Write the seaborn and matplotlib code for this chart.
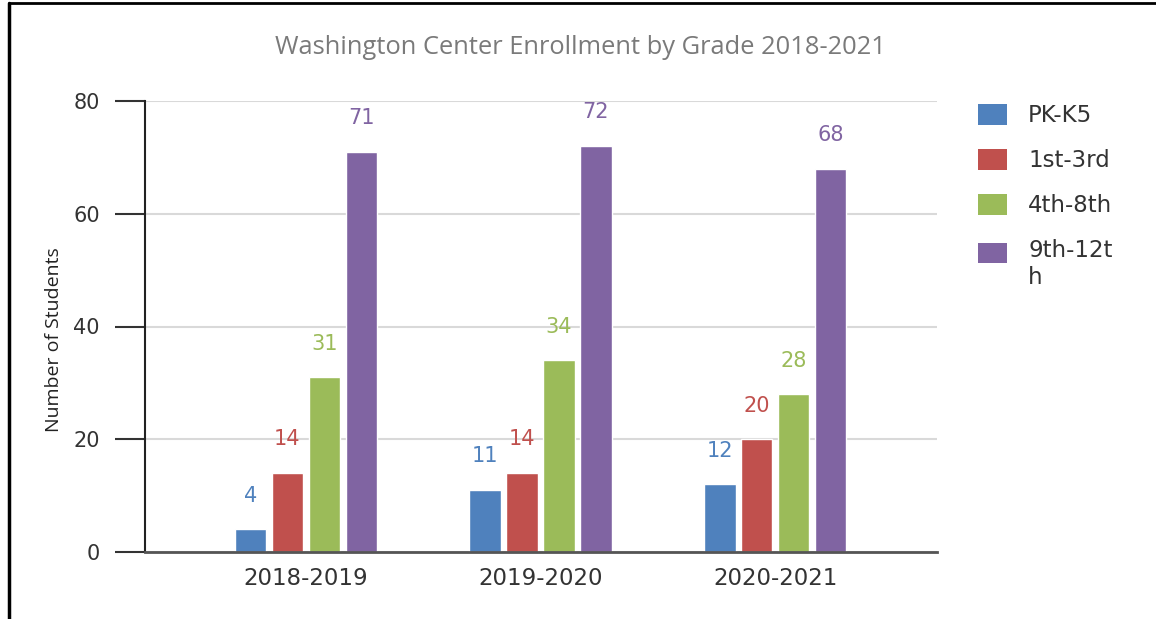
import textwrap

import matplotlib
matplotlib.use("Agg")
import matplotlib.pyplot as plt
from matplotlib.lines import Line2D
from matplotlib.patches import Patch
import pandas as pd
import seaborn as sns

# Enrollment counts per school year and grade band
seasons = ["2018-2019", "2019-2020", "2020-2021"]
grades = ["PK-K5", "1st-3rd", "4th-8th", "9th-12th"]
pk_k5 = [4, 11, 12]
first_third = [14, 14, 20]
fourth_eighth = [31, 34, 28]
ninth_twelfth = [71, 72, 68]
y_ticks = [0, 20, 40, 60, 80]

title = "Washington Center Enrollment by Grade 2018-2021"
y_label = "Number of Students"

colors = ["#4F81BD", "#C0504D", "#9BBB59", "#8064A2"]

df = pd.DataFrame({
    "season": seasons * 4,
    "grade": [g for g in grades for _ in seasons],
    "students": pk_k5 + first_third + fourth_eighth + ninth_twelfth,
})

sns.set_theme(style="white")
plt.rcParams["font.family"] = ["DejaVu Sans"]

W, H = 1156, 619
fig = plt.figure(figsize=(W / 100, H / 100), dpi=100)
ax = fig.add_axes([145 / W, 1 - 552 / H, (937 - 145) / W, (552 - 101) / H])

sns.barplot(
    data=df, x="season", y="students", hue="grade",
    hue_order=grades, order=seasons, palette=colors,
    width=0.63, gap=0.15, saturation=1, legend=False, ax=ax,
)

# value labels above each bar, coloured like the bar
for container, color in zip(ax.containers, colors):
    ax.bar_label(container, padding=17, color=color, fontsize=15)

ax.set_xlim(-0.685, 2.689)
ax.set_ylim(0, 80)
ax.set_yticks(y_ticks)
ax.set_xlabel("")
ax.set_ylabel(y_label, fontsize=14, color="#222222", family="Open Sans")
ax.yaxis.set_label_coords(-0.1035, 0.472)

ax.yaxis.grid(True, color="#d9d9d9", linewidth=1.5)
ax.set_axisbelow(True)
ax.tick_params(axis="y", length=21.6, width=1.5, color="#333333", pad=11,
               labelsize=15, labelcolor="#333333", left=True)
ax.tick_params(axis="x", length=0, pad=11, labelsize=16.5, labelcolor="#333333")

for side in ("top", "right"):
    ax.spines[side].set_visible(False)
ax.spines["left"].set_color("#222222")
ax.spines["left"].set_linewidth(1.5)
ax.spines["bottom"].set_color("#555555")
ax.spines["bottom"].set_linewidth(2)

fig.text(580 / W, 1 - 47 / H, title, ha="center", va="center",
         fontsize=18.4, color="#7a7a7a", family="Open Sans")

handles = [Patch(facecolor=c, edgecolor="none") for c in colors]
labels = [textwrap.fill(g, 7, break_on_hyphens=False) for g in grades]
leg = fig.legend(
    handles, labels, loc="upper left", bbox_to_anchor=(978 / W, 1 - 104 / H),
    frameon=False, fontsize=16.5, handlelength=1.27, handleheight=1.0,
    handletextpad=0.92, labelspacing=0.96, borderpad=0, borderaxespad=0,
    labelcolor="#333333",
)
# keep the swatch of a wrapped label level with its first line
for handle, label in zip(leg.legend_handles, labels):
    extra_lines = label.count("\n")
    if extra_lines:
        handle.set_y(handle.get_y() + 8.8 * extra_lines)

# page border on the top and left edges
fig.add_artist(Line2D([9 / W, 9 / W], [0, 1 - 3 / H], color="black", linewidth=2.5))
fig.add_artist(Line2D([9 / W, 1], [1 - 3 / H, 1 - 3 / H], color="black", linewidth=2))

fig.savefig("out.png", dpi=100)
